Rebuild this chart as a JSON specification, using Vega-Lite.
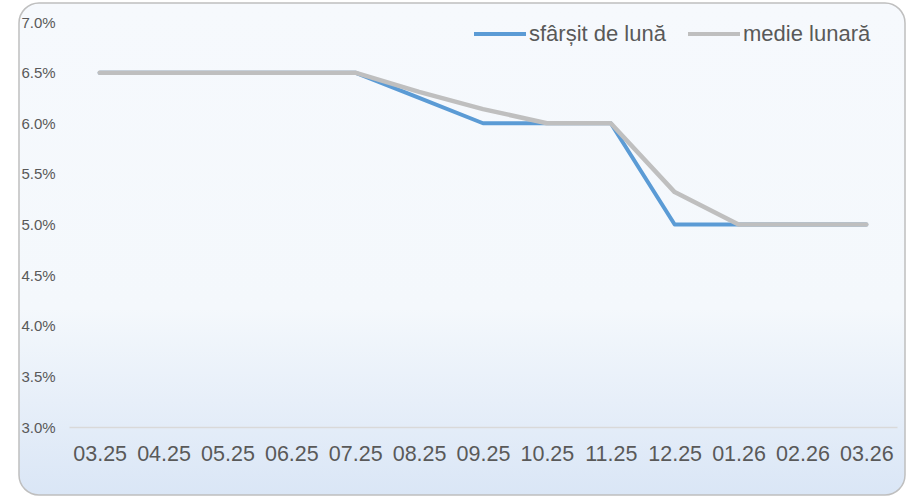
{
  "$schema": "https://vega.github.io/schema/vega-lite/v6.json",
  "width": 886,
  "height": 492,
  "autosize": {"type": "none"},
  "padding": {"left": 19, "top": 3, "right": 2, "bottom": 2},
  "background": "white",
  "config": {
    "font": "Liberation Sans",
    "view": {
      "stroke": "#BFBFBF",
      "strokeWidth": 1.5,
      "cornerRadius": 20,
      "fill": {"gradient": "linear", "x1": 0, "y1": 0, "x2": 0, "y2": 1,
        "stops": [{"offset": 0, "color": "#F6F9FD"}, {"offset": 0.62, "color": "#F4F8FC"}, {"offset": 1, "color": "#DAE6F6"}]}
    }
  },
  "data": {
    "values": [
      {"luna": "03.25", "serie": "sfârșit de lună", "rata": 6.5},
      {"luna": "04.25", "serie": "sfârșit de lună", "rata": 6.5},
      {"luna": "05.25", "serie": "sfârșit de lună", "rata": 6.5},
      {"luna": "06.25", "serie": "sfârșit de lună", "rata": 6.5},
      {"luna": "07.25", "serie": "sfârșit de lună", "rata": 6.5},
      {"luna": "08.25", "serie": "sfârșit de lună", "rata": 6.25},
      {"luna": "09.25", "serie": "sfârșit de lună", "rata": 6.0},
      {"luna": "10.25", "serie": "sfârșit de lună", "rata": 6.0},
      {"luna": "11.25", "serie": "sfârșit de lună", "rata": 6.0},
      {"luna": "12.25", "serie": "sfârșit de lună", "rata": 5.0},
      {"luna": "01.26", "serie": "sfârșit de lună", "rata": 5.0},
      {"luna": "02.26", "serie": "sfârșit de lună", "rata": 5.0},
      {"luna": "03.26", "serie": "sfârșit de lună", "rata": 5.0},
      {"luna": "03.25", "serie": "medie lunară", "rata": 6.5},
      {"luna": "04.25", "serie": "medie lunară", "rata": 6.5},
      {"luna": "05.25", "serie": "medie lunară", "rata": 6.5},
      {"luna": "06.25", "serie": "medie lunară", "rata": 6.5},
      {"luna": "07.25", "serie": "medie lunară", "rata": 6.5},
      {"luna": "08.25", "serie": "medie lunară", "rata": 6.31},
      {"luna": "09.25", "serie": "medie lunară", "rata": 6.14},
      {"luna": "10.25", "serie": "medie lunară", "rata": 6.0},
      {"luna": "11.25", "serie": "medie lunară", "rata": 6.0},
      {"luna": "12.25", "serie": "medie lunară", "rata": 5.32},
      {"luna": "01.26", "serie": "medie lunară", "rata": 5.0},
      {"luna": "02.26", "serie": "medie lunară", "rata": 5.0},
      {"luna": "03.26", "serie": "medie lunară", "rata": 5.0}
    ]
  },
  "encoding": {
    "x": {
      "field": "luna", "type": "ordinal", "sort": null,
      "scale": {"type": "point", "range": [50, 878], "padding": 0.48},
      "axis": {
        "title": null, "labelAngle": 0, "labelFontSize": 21.5, "labelColor": "#595959",
        "ticks": false, "tickSize": 0, "domain": true, "domainColor": "#D9D9D9", "domainWidth": 1.5,
        "labelPadding": 16, "offset": -68, "grid": false, "labelOverlap": false
      }
    },
    "y": {
      "field": "rata", "type": "quantitative",
      "scale": {"domain": [2.3284, 7.1877], "nice": false, "zero": false},
      "axis": {
        "title": null, "values": [3, 3.5, 4, 4.5, 5, 5.5, 6, 6.5, 7],
        "labelExpr": "format(datum.value, '.1f') + '%'",
        "labelFontSize": 15, "labelColor": "#595959", "labelAlign": "left",
        "ticks": false, "tickSize": 0, "domain": false, "grid": false, "labelPadding": -2
      }
    },
    "color": {
      "field": "serie", "type": "nominal",
      "scale": {"domain": ["sfârșit de lună", "medie lunară"], "range": ["#5B9BD5", "#BFBFBF"]},
      "legend": {
        "title": null, "orient": "none", "direction": "horizontal",
        "legendX": 453, "legendY": 3, "symbolType": "stroke", "symbolSize": 2704,
        "symbolStrokeWidth": 4, "labelFontSize": 22, "labelColor": "#595959",
        "labelOffset": 1, "columnPadding": 14, "padding": 0
      }
    }
  },
  "layer": [
    {
      "transform": [{"filter": "datum.serie === 'sfârșit de lună'"}],
      "mark": {"type": "line", "strokeWidth": 4, "strokeCap": "round", "strokeJoin": "round"}
    },
    {
      "transform": [{"filter": "datum.serie === 'medie lunară'"}],
      "mark": {"type": "line", "strokeWidth": 4.5, "strokeCap": "round", "strokeJoin": "round"}
    }
  ]
}
